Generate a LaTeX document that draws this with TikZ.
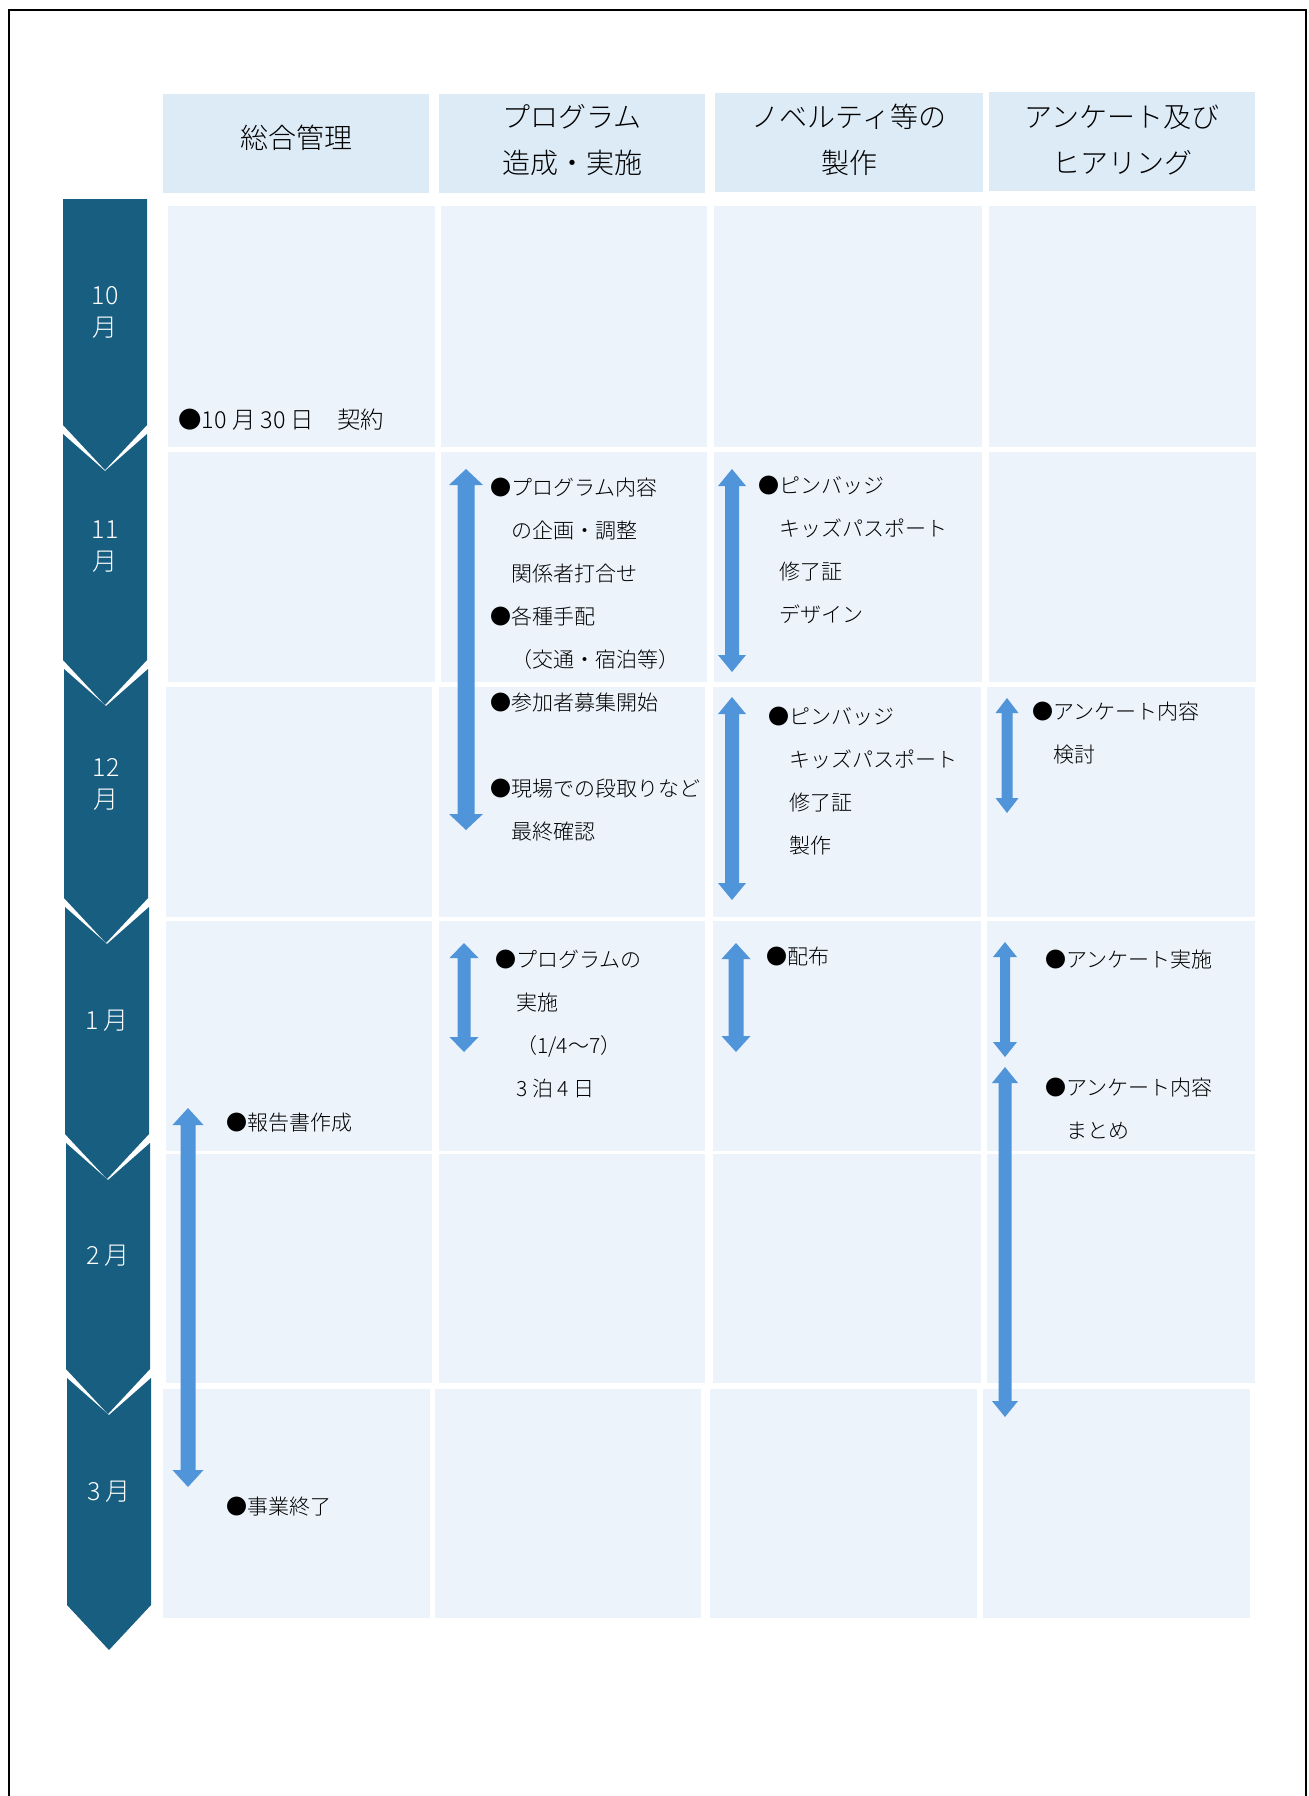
\documentclass[tikz,border=0pt]{standalone}
\usepackage{fontspec}
\setmainfont{Noto Sans CJK JP}[UprightFont={* Light}]
\definecolor{monthc}{RGB}{23,94,128}
\definecolor{headc}{RGB}{221,235,247}
\definecolor{cellc}{RGB}{236,243,251}
\definecolor{arrc}{RGB}{80,148,217}
\tikzset{
  headbox/.style={fill=headc},
  cellbox/.style={fill=cellc},
  monthshape/.style={fill=monthc},
  spanarrow/.style={fill=arrc},
  headtxt/.style={align=center, inner sep=0, font=\fontsize{14}{23}\selectfont},
  monthtxt/.style={align=center, inner sep=0, text=white, font=\fontsize{12.5}{16}\selectfont},
  bodytxt/.style={anchor=west, inner sep=0, text height=9.2pt, text depth=1.3pt, font=\fontsize{10.5}{12}\selectfont},
  bigtxt/.style={anchor=west, inner sep=0, text height=10.3pt, text depth=1.4pt, font=\fontsize{11.7}{13}\selectfont},
}
% vertical double block arrow: centre x, top, bottom, shaft width, head width, head length
\newcommand\vspan[6]{%
  \fill[spanarrow] (#1,#2) -- ({#1+#5/2},{#2+#6}) -- ({#1+#4/2},{#2+#6}) -- ({#1+#4/2},{#3-#6})
    -- ({#1+#5/2},{#3-#6}) -- (#1,#3) -- ({#1-#5/2},{#3-#6}) -- ({#1-#4/2},{#3-#6})
    -- ({#1-#4/2},{#2+#6}) -- ({#1-#5/2},{#2+#6}) -- cycle;}
% month shapes: x0, x1, top, side bottom
\newcommand\monthfirst[4]{%
  \fill[monthshape] (#1,#3) -- (#2,#3) -- (#2,#4) -- ({(#1+#2)/2},{#4+45}) -- (#1,#4) -- cycle;}
\newcommand\monthnext[4]{%
  \fill[monthshape] (#1,#3) -- ({(#1+#2)/2},{#3+37}) -- (#2,#3) -- (#2,#4)
    -- ({(#1+#2)/2},{#4+45}) -- (#1,#4) -- cycle;}
% text block: name, x, y of first line centre, list of lines
\newcommand\txtblock[4]{%
  \foreach \lntxt [count=\lnidx from 0] in {#4} {
    \node[bodytxt] (#1-\lnidx) at (#2,{#3+43*\lnidx}) {\lntxt};
  }}
\begin{document}
\begin{tikzpicture}[x=0.5pt,y=-0.5pt]
\useasboundingbox (0,0) rectangle (1309,1796);
\fill[white] (0,0) rectangle (1309,1796);
% frame
\draw[line width=1pt] (9,1800) -- (9,10) -- (1306,10) -- (1306,1800);

% headers
\fill[headbox] (163,94) rectangle (429,193);
\fill[headbox] (439,94) rectangle (705,193);
\fill[headbox] (715,93) rectangle (983,192);
\fill[headbox] (989,92) rectangle (1255,191);
\node[headtxt] (h1) at (296,138) {総合管理};
\node[headtxt] (h2) at (572,140) {プログラム\\造成・実施};
\node[headtxt] (h3) at (849,140) {ノベルティ等の\\製作};
\node[headtxt] (h4) at (1122,140) {アンケート及び\\ヒアリング};

% body cells
\foreach \ya/\yb in {206/447,452/682} {
  \fill[cellbox] (168,\ya) rectangle (435,\yb);
  \fill[cellbox] (441,\ya) rectangle (707,\yb);
  \fill[cellbox] (714,\ya) rectangle (982,\yb);
  \fill[cellbox] (989,\ya) rectangle (1256,\yb);
}
\foreach \ya/\yb in {687/917,921/1151,1154/1383} {
  \fill[cellbox] (166,\ya) rectangle (432,\yb);
  \fill[cellbox] (439,\ya) rectangle (705,\yb);
  \fill[cellbox] (713,\ya) rectangle (981,\yb);
  \fill[cellbox] (987,\ya) rectangle (1255,\yb);
}
\fill[cellbox] (163,1389) rectangle (430,1618);
\fill[cellbox] (435,1389) rectangle (701,1618);
\fill[cellbox] (710,1389) rectangle (977,1618);
\fill[cellbox] (983,1389) rectangle (1250,1618);

% months
\monthfirst{63}{147}{199}{425}
\monthnext{63}{147}{434}{660}
\monthnext{64}{148}{669}{898}
\monthnext{65}{149}{907}{1134}
\monthnext{66}{150}{1143}{1369}
\monthnext{67}{151}{1378}{1605}
\node[monthtxt] (m10) at (105,312) {10\\月};
\node[monthtxt] (m11) at (105,547) {11\\月};
\node[monthtxt] (m12) at (106,784) {12\\月};
\node[monthtxt] (m1) at (107,1021) {1 月};
\node[monthtxt] (m2) at (108,1256) {2 月};
\node[monthtxt] (m3) at (109,1492) {3 月};

% span arrows
\vspan{188}{1108}{1487}{15}{31}{17}
\vspan{466}{469}{830}{17}{34}{16}
\vspan{464}{943}{1052}{13}{29}{15}
\vspan{732}{469}{672}{14}{28}{17}
\vspan{732}{697}{900}{14}{28}{17}
\vspan{736}{943}{1052}{15}{29}{16}
\vspan{1007}{698}{813}{11}{23}{15}
\vspan{1005}{942}{1057}{10}{24}{15}
\vspan{1005}{1067}{1417}{13}{26}{16}

% texts
\node[bigtxt] (ta-0) at (178,420) {●10 月 30 日　契約};
\txtblock{tb}{226}{1123}{{●報告書作成}}
\txtblock{tc}{226}{1507}{{●事業終了}}
\txtblock{td}{490}{488}{{●プログラム内容},{　の企画・調整},{　関係者打合せ},{●各種手配},{　（交通・宿泊等）},{●参加者募集開始}}
\txtblock{te}{490}{789}{{●現場での段取りなど},{　最終確認}}
\txtblock{tf}{495}{960}{{●プログラムの},{　実施},{　（1/4～7）},{　3 泊 4 日}}
\txtblock{tg}{758}{486}{{●ピンバッジ},{　キッズパスポート},{　修了証},{　デザイン}}
\txtblock{th}{768}{717}{{●ピンバッジ},{　キッズパスポート},{　修了証},{　製作}}
\txtblock{ti}{766}{957}{{●配布}}
\txtblock{tj}{1032}{712}{{●アンケート内容},{　検討}}
\txtblock{tk}{1045}{960}{{●アンケート実施}}
\txtblock{tl}{1045}{1088}{{●アンケート内容},{　まとめ}}
\end{tikzpicture}
\end{document}
